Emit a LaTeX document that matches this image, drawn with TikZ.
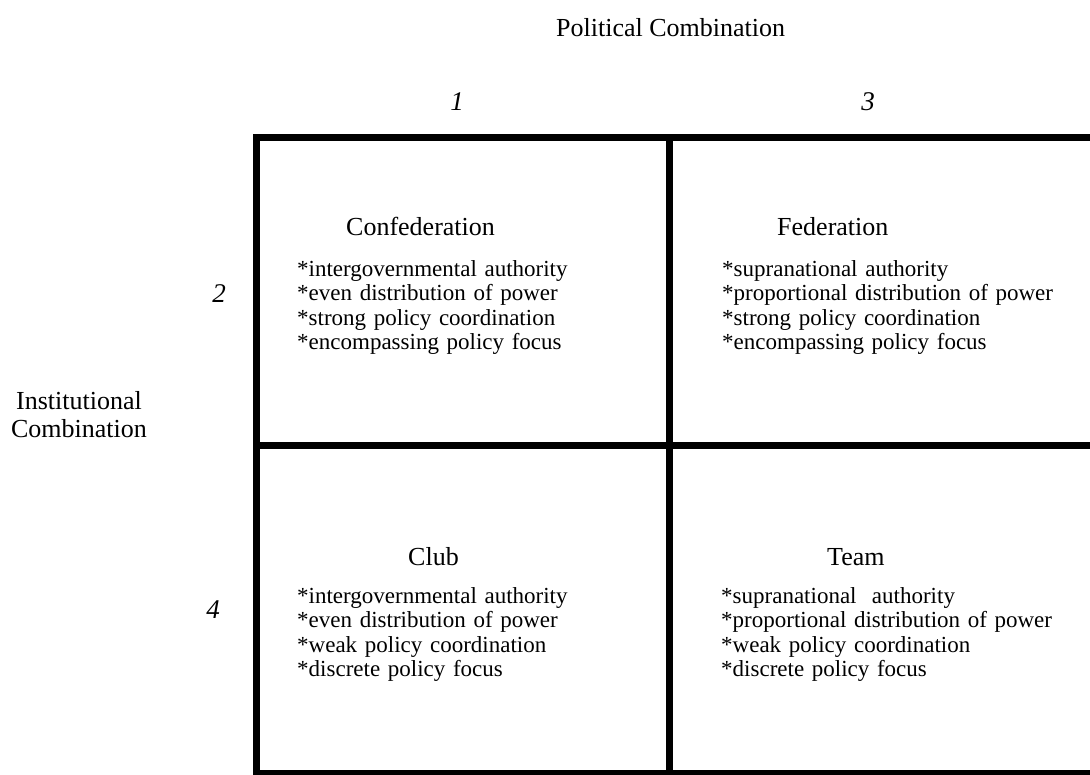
\documentclass[tikz,border=0pt]{standalone}
\usepackage{fontspec}
\setmainfont{Liberation Serif}
\tikzset{
  head/.style={font=\fontsize{26}{28}\selectfont, inner sep=0pt},
  body/.style={font=\fontsize{23}{24.5}\selectfont, align=left, text width=380pt, inner sep=0pt, anchor=base west},
  num/.style={font=\fontsize{27}{28}\selectfont\itshape, inner sep=0pt, anchor=base},
  gridline/.style={line width=7pt},
}
\newcommand{\bul}{{*}}
\begin{document}
\begin{tikzpicture}[x=1pt,y=-1pt]
\path[use as bounding box, clip] (0,0) rectangle (1090,774);
\fill[white] (0,0) rectangle (1090,774);
% grid
\coordinate (tl) at (256.5,137.5);
\coordinate (br) at (1110,773.5);
\coordinate (mt) at (669.5,137.5);
\coordinate (mb) at (669.5,773.5);
\coordinate (ml) at (256.5,445.5);
\coordinate (mr) at (1110,445.5);
\draw[gridline] (tl) rectangle (br);
\draw[gridline] (mt) -- (mb);
\draw[gridline] (ml) -- (mr);
% axis labels
\node[head, anchor=base west] (pol) at (556,36) {Political Combination};
\node[head, align=center, anchor=base] (inst) at (79,437) {Institutional\\Combination};
\node[num] (n1) at (457,110) {1};
\node[num] (n3) at (868,110) {3};
\node[num] (n2) at (219,302) {2};
\node[num] (n4) at (213,618) {4};
% cells
\node[head, anchor=base west] (conf) at (346,235) {Confederation};
\node[body] (confb) at (297,276) {\bul intergovernmental authority\\\bul even distribution of power\\\bul strong policy coordination\\\bul encompassing policy focus};
\node[head, anchor=base west] (fed) at (777,235) {Federation};
\node[body] (fedb) at (722,276) {\bul supranational authority\\\bul proportional distribution of power\\\bul strong policy coordination\\\bul encompassing policy focus};
\node[head, anchor=base west] (club) at (408,565) {Club};
\node[body] (clubb) at (297,603) {\bul intergovernmental authority\\\bul even distribution of power\\\bul weak policy coordination\\\bul discrete policy focus};
\node[head, anchor=base west] (team) at (827,565) {Team};
\node[body] (teamb) at (721,603) {\bul supranational\ \ authority\\\bul proportional distribution of power\\\bul weak policy coordination\\\bul discrete policy focus};
\end{tikzpicture}
\end{document}
